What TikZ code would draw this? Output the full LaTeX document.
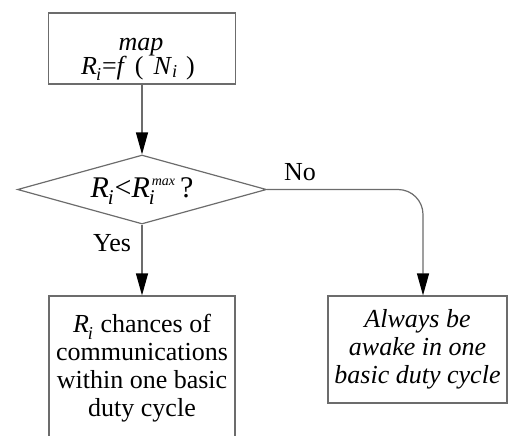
\documentclass[tikz,border=0pt]{standalone}
\usepackage{fontspec}
\setmainfont{Liberation Serif}
\usetikzlibrary{shapes.geometric,arrows.meta}
\newcommand{\Ri}{\textit{R}\raisebox{-1.5pt}{\textsubscript{\kern-0.5pt\textit{i}}}}
\begin{document}
\begin{tikzpicture}[x=0.5pt,y=-0.5pt,
  every node/.style={font=\fontsize{13pt}{14pt}\selectfont},
  box/.style={draw=gray!85!black, line width=0.6pt, rectangle, inner sep=0pt, align=center},
  decision/.style={draw=gray!85!black, line width=0.6pt, diamond, inner sep=0pt, minimum width=124.5pt, minimum height=34.5pt},
  arr/.style={draw=gray!85!black, line width=0.6pt, -{Triangle[length=11pt,width=6pt,black]}},
  lbl/.style={inner sep=0pt}]
\useasboundingbox (0,0) rectangle (512,435);
\node[box, minimum width=93.5pt, minimum height=35.5pt] (map) at (142,48.5) {};
\node[inner sep=0pt, align=center, anchor=base] (maptext) at (141,50)
  {\textit{map}};
\node[inner sep=0pt, anchor=base] (mapeq) at (138,74)
  {\Ri=\textit{f}\hspace{4pt}(\hspace{5pt}\textit{N}\textsubscript{\textit{i}}\hspace{4pt})};
\node[decision] (d) at (142,189.5)
  {\makebox[0pt]{\smash{\fontsize{15pt}{16pt}\selectfont\raisebox{-4pt}{\Ri<\textit{R}\kern-0.5pt\raisebox{-1.5pt}{\textsubscript{\textit{i}}}\kern-2pt\raisebox{6pt}{\scriptsize\textit{max}}\,?}}}};
\node[box, minimum width=93pt, minimum height=72pt] (yes) at (142,368)
  {\Ri{} chances of\\communications\\within one basic\\duty cycle};
\node[box, minimum width=89.5pt, minimum height=53.5pt] (no) at (417.5,349.5)
  {\textit{Always be}\\\textit{awake in one}\\\textit{basic duty cycle}};
\node[lbl] (ylbl) at (112,243) {Yes};
\node[lbl] (nlbl) at (300,172) {No};
\draw[arr] (map.south) -- (d.north);
\draw[arr] (d.south) -- (yes.north);
\draw[arr, rounded corners=12.5pt] (d.east) -- ([xshift=2.75pt]d.east -| no.north) -- ([xshift=2.75pt]no.north);
\end{tikzpicture}
\end{document}
